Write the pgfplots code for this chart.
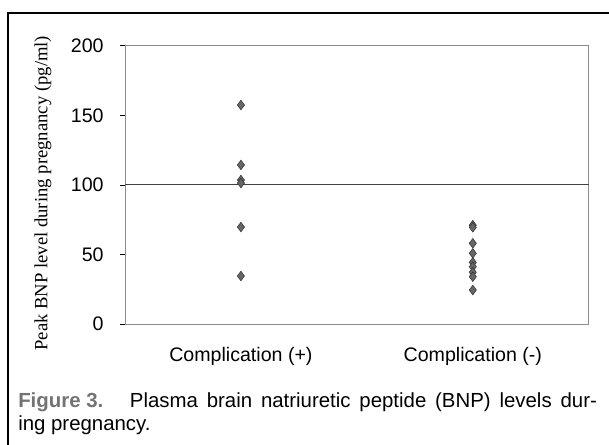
\documentclass[border=0pt]{standalone}
\usepackage{pgfplots}
\pgfplotsset{compat=1.18}
\usepackage{fontspec}
\setmainfont{Liberation Sans}
\newfontfamily\serif{Liberation Serif}

\definecolor{markfill}{gray}{0.40}
\definecolor{axisgray}{gray}{0.55}

\begin{document}
\begin{tikzpicture}
% picture size 609 x 444 px = 456.75 x 333 pt
\useasboundingbox (0,0) rectangle (456.75pt,333pt);
% outer frame of the figure
\draw[line width=2.2pt] (6pt,-4pt) -- (6pt,323.25pt) -- (462pt,323.25pt);

\begin{axis}[
    at={(93.75pt,90pt)}, anchor=south west,
    scale only axis,
    width=347.8pt, height=208.7pt,
    xmin=0.5, xmax=2.5,
    ymin=0, ymax=200,
    xtick={1,2},
    xticklabels={Complication (+), Complication (-)},
    ytick={0,50,100,150,200},
    axis line style={axisgray, line width=0.6pt},
    tick style={black, line width=0.5pt},
    x tick style={draw=none},
    tick align=outside,
    major tick length=3.75pt,
    ytick pos=left,
    xtick pos=bottom,
    ticklabel style={font=\fontsize{14.7}{17}\selectfont},
    /pgf/number format/assume math mode=true,
    yticklabel style={xshift=-8.75pt},
    xticklabel style={yshift=-10pt},
    ylabel={\serif Peak BNP level during pregnancy (pg/ml)},
    ylabel style={font=\fontsize{14}{16}\selectfont,
        at={(axis description cs:-0.177,0.47)}, anchor=center},
    clip=false,
]
% reference level at 100 pg/ml
\addplot[black!75, line width=0.8pt, no marks] coordinates {(0.5,100) (2.5,100)};
% Complication (+)
\addplot[only marks, mark=diamond*, mark size=3.6pt,
    mark options={fill=markfill, draw=black!80, line width=0.4pt}]
    coordinates {(1,157.4) (1,114.3) (1,103.5) (1,101.3) (1,69.7) (1,34.5)};
% Complication (-)
\addplot[only marks, mark=diamond*, mark size=3.6pt,
    mark options={fill=markfill, draw=black!80, line width=0.4pt}]
    coordinates {(2,71) (2,69.5) (2,58) (2,50.8) (2,44.3) (2,41.2) (2,37.2) (2,34) (2,24.4)};
\end{axis}

% caption (first line justified)
\node[anchor=base west, inner sep=0pt] at (13.5pt,27.75pt)
    {\fontsize{15.3}{18}\selectfont\makebox[434pt][s]{%
    \mbox{\bfseries\color{black!55}Figure 3.}\hspace{20pt}Plasma brain natriuretic peptide (BNP) levels dur-}};
\node[anchor=base west, inner sep=0pt] at (13.5pt,10pt)
    {\fontsize{15.3}{18}\selectfont ing pregnancy.};
\end{tikzpicture}
\end{document}
